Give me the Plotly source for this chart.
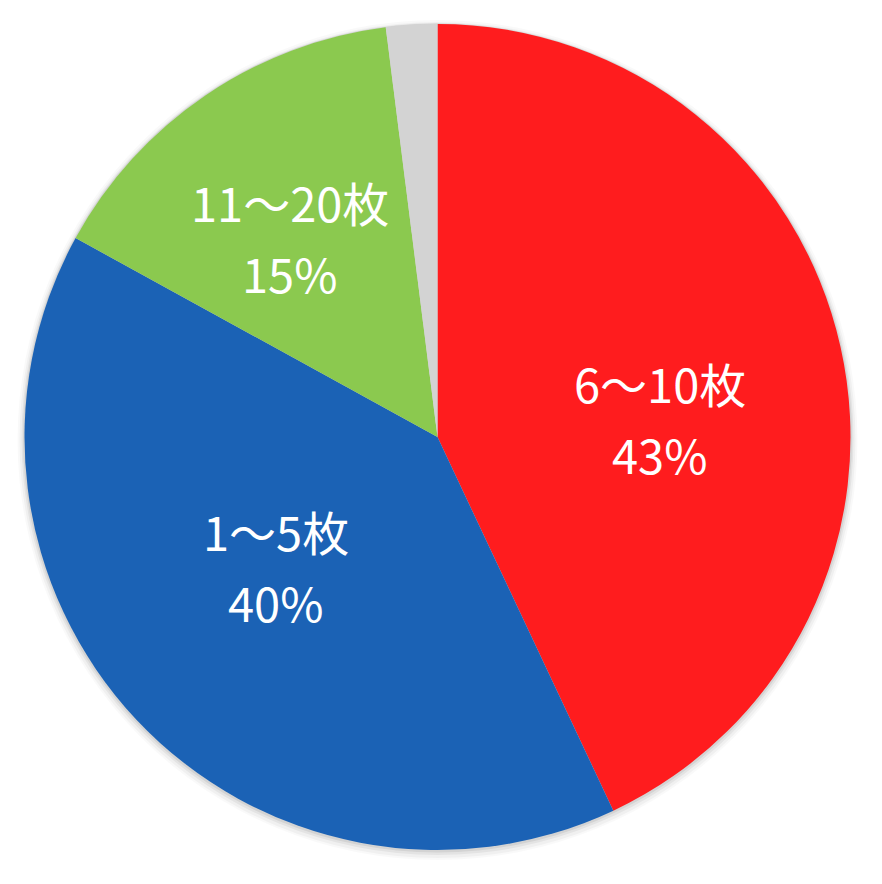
import math
import plotly.graph_objects as go

labels = ["6〜10枚", "1〜5枚", "11〜20枚", "その他"]
values = [43, 40, 15, 2]
colors = ["#FF1C1E", "#1B62B5", "#8BC94F", "#D3D3D3"]
show_label = [True, True, True, False]

# label placement style (angle offset from slice bisector in degrees, radius fraction)
label_dtheta = [8.5, 3.8, -2.7, 0]
label_rfrac = [0.54, 0.507, 0.595, 0.5]

W, H = 882, 884
CX, CY, R = 429.5, 429.0, 413.0   # pie centre & radius in figure pixels

def dom(cx, cy, r):
    return dict(x=[(cx - r) / W, (cx + r) / W], y=[1 - (cy + r) / H, 1 - (cy - r) / H])

fig = go.Figure()

# soft shadow layers
total = sum(values)
for dr, dy, a in [(7, 3, 0.025), (5, 3, 0.035), (3, 2, 0.05), (1.5, 1, 0.07)]:
    fig.add_trace(go.Pie(
        values=[total], marker=dict(colors=[f"rgba(0,0,0,{a})"], line=dict(width=0)),
        textinfo="none", hoverinfo="skip", showlegend=False, sort=False,
        domain=dom(CX, CY + dy, R + dr),
    ))

fig.add_trace(go.Pie(
    labels=labels, values=values, sort=False, direction="clockwise", rotation=0,
    marker=dict(colors=colors, line=dict(width=0)),
    textinfo="none", domain=dom(CX, CY, R),
    showlegend=False, hoverinfo="label+percent",
))

font = dict(family="Noto Sans CJK JP", size=47, color="white")
cum = 0
for lab, v, show, dth, rf in zip(labels, values, show_label, label_dtheta, label_rfrac):
    start = cum / total * 360
    cum += v
    end = cum / total * 360
    if not show:
        continue
    ang = math.radians((start + end) / 2 + dth)
    px = CX + R * rf * math.sin(ang)
    py = CY - R * rf * math.cos(ang)
    for txt, off in [(lab, -39), (f"{v}%", 32)]:
        fig.add_annotation(x=px / W, y=1 - (py + off) / H, xref="paper", yref="paper",
                           text=txt, showarrow=False, font=font,
                           xanchor="center", yanchor="middle")

fig.update_layout(width=W, height=H, margin=dict(l=0, r=0, t=0, b=0),
                  paper_bgcolor="white", plot_bgcolor="white")
fig.write_html("out.html")
